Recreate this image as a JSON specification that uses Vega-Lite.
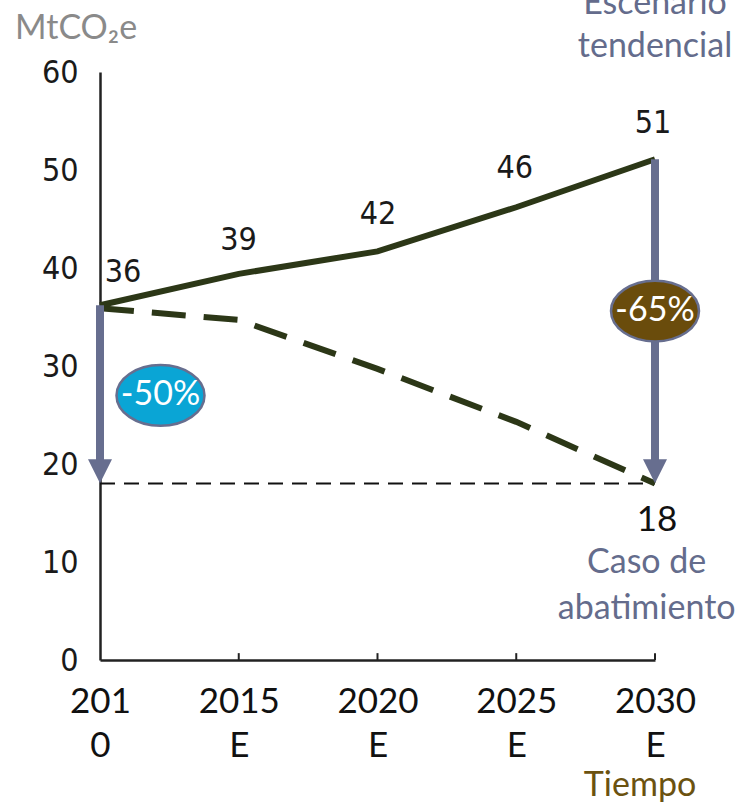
{
  "$schema": "https://vega.github.io/schema/vega-lite/v6.json",
  "width": 555,
  "height": 588,
  "autosize": "none",
  "padding": {"left": 100, "top": 72, "right": 85, "bottom": 145},
  "background": "white",
  "config": {"view": {"stroke": null}},
  "layer": [
    {
      "data": {"values": [{"year": 2010, "value": 18}, {"year": 2030, "value": 18}]},
      "mark": {"type": "line", "color": "#111111", "strokeWidth": 2, "strokeDash": [15, 9]},
      "encoding": {
        "x": {
          "field": "year", "type": "quantitative",
          "scale": {"domain": [2010, 2030], "nice": false, "zero": false},
          "axis": {
            "values": [2010, 2015, 2020, 2025, 2030],
            "title": null, "grid": false, "ticks": false,
            "domainColor": "#222222", "domainWidth": 2.5,
            "labelExpr": "datum.value == 2010 ? ['201','0'] : [toString(datum.value),'E']",
            "labelFont": "Lato", "labelFontSize": 35, "labelColor": "#111111",
            "labelPadding": 24, "labelLineHeight": 44, "labelBaseline": "top",
            "labelFlush": false, "labelOverlap": false, "labelBound": false
          }
        },
        "y": {
          "field": "value", "type": "quantitative",
          "scale": {"domain": [0, 60], "nice": false, "zero": true},
          "axis": {
            "values": [0, 10, 20, 30, 40, 50, 60],
            "title": null, "grid": false, "ticks": false,
            "domainColor": "#222222", "domainWidth": 2.5,
            "labelFont": "'Liberation Sans Narrow', 'DejaVu Sans Condensed', 'Roboto Condensed', Roboto, sans-serif", "labelFontSize": 32, "labelColor": "#1a1a1a",
            "labelPadding": 22, "labelFlush": false, "labelOverlap": false
          }
        }
      }
    },
    {
      "data": {"values": [{"year": 2015, "lo": 0, "hi": 0.7}, {"year": 2020, "lo": 0, "hi": 0.7}, {"year": 2025, "lo": 0, "hi": 0.7}, {"year": 2030, "lo": 0, "hi": 0.7}]},
      "mark": {"type": "rule", "color": "#222222", "strokeWidth": 2},
      "encoding": {
        "x": {"field": "year", "type": "quantitative"},
        "y": {"field": "lo", "type": "quantitative"},
        "y2": {"field": "hi"}
      }
    },
    {
      "data": {"values": [
        {"year": 2010, "value": 35.9},
        {"year": 2015, "value": 34.7},
        {"year": 2020, "value": 29.7},
        {"year": 2025, "value": 24.3},
        {"year": 2030, "value": 18.0}
      ]},
      "mark": {"type": "line", "color": "#2c3717", "strokeWidth": 6, "strokeDash": [34, 18]},
      "encoding": {
        "x": {"field": "year", "type": "quantitative"},
        "y": {"field": "value", "type": "quantitative"}
      }
    },
    {
      "data": {"values": [
        {"year": 2010, "value": 36.2},
        {"year": 2015, "value": 39.4},
        {"year": 2020, "value": 41.7},
        {"year": 2025, "value": 46.2},
        {"year": 2030, "value": 51.1}
      ]},
      "mark": {"type": "line", "color": "#2c3717", "strokeWidth": 6},
      "encoding": {
        "x": {"field": "year", "type": "quantitative"},
        "y": {"field": "value", "type": "quantitative"}
      }
    },
    {
      "data": {"values": [
        {"year": 2010, "from": 36.2, "to": 20.2},
        {"year": 2030, "from": 51.1, "to": 20.2}
      ]},
      "mark": {"type": "rule", "color": "#676e8f", "strokeWidth": 8},
      "encoding": {
        "x": {"field": "year", "type": "quantitative"},
        "y": {"field": "from", "type": "quantitative"},
        "y2": {"field": "to"}
      }
    },
    {
      "data": {"values": [
        {"year": 2010, "value": 19.25},
        {"year": 2030, "value": 19.25}
      ]},
      "mark": {"type": "point", "shape": "M -1 -1 L 1 -1 L 0 1 Z", "size": 576, "filled": true, "color": "#676e8f", "opacity": 1},
      "encoding": {
        "x": {"field": "year", "type": "quantitative"},
        "y": {"field": "value", "type": "quantitative"}
      }
    },
    {
      "data": {"values": [{"year": 2012.18, "value": 27.0}]},
      "mark": {"type": "point", "shape": "M -1 0 A 1 0.69 0 1 1 1 0 A 1 0.69 0 1 1 -1 0 Z", "size": 7744, "filled": true, "fill": "#0aa5d5", "stroke": "#676e8f", "strokeWidth": 2.5, "opacity": 1, "fillOpacity": 1},
      "encoding": {
        "x": {"field": "year", "type": "quantitative"},
        "y": {"field": "value", "type": "quantitative"}
      }
    },
    {
      "data": {"values": [{"year": 2030, "value": 35.6}]},
      "mark": {"type": "point", "shape": "M -1 0 A 1 0.69 0 1 1 1 0 A 1 0.69 0 1 1 -1 0 Z", "size": 7744, "filled": true, "fill": "#6a4c0c", "stroke": "#676e8f", "strokeWidth": 2.5, "opacity": 1, "fillOpacity": 1},
      "encoding": {
        "x": {"field": "year", "type": "quantitative"},
        "y": {"field": "value", "type": "quantitative"}
      }
    },
    {
      "data": {"values": [
        {"year": 2012.18, "value": 27.0, "label": "-50%"},
        {"year": 2030, "value": 35.6, "label": "-65%"}
      ]},
      "mark": {"type": "text", "font": "Lato", "fontSize": 34, "color": "white", "align": "center", "baseline": "middle"},
      "encoding": {
        "x": {"field": "year", "type": "quantitative"},
        "y": {"field": "value", "type": "quantitative"},
        "text": {"field": "label"}
      }
    },
    {
      "data": {"values": [
        {"year": 2010.83, "value": 39.6, "label": "36"},
        {"year": 2014.99, "value": 42.9, "label": "39"},
        {"year": 2020.02, "value": 45.5, "label": "42"},
        {"year": 2024.95, "value": 50.2, "label": "46"},
        {"year": 2029.93, "value": 54.8, "label": "51"}
      ]},
      "mark": {"type": "text", "font": "'Liberation Sans Narrow', 'DejaVu Sans Condensed', 'Roboto Condensed', Roboto, sans-serif", "fontSize": 32, "color": "#1a1a1a", "align": "center", "baseline": "middle"},
      "encoding": {
        "x": {"field": "year", "type": "quantitative"},
        "y": {"field": "value", "type": "quantitative"},
        "text": {"field": "label"}
      }
    },
    {
      "data": {"values": [{"year": 2030.07, "value": 14.3, "label": "18"}]},
      "mark": {"type": "text", "font": "Lato", "fontSize": 35, "color": "#111111", "align": "center", "baseline": "middle"},
      "encoding": {
        "x": {"field": "year", "type": "quantitative"},
        "y": {"field": "value", "type": "quantitative"},
        "text": {"field": "label"}
      }
    },
    {
      "data": {"values": [
        {"year": 2030, "value": 66.9, "label": "Escenario"},
        {"year": 2030, "value": 62.55, "label": "tendencial"},
        {"year": 2029.7, "value": 9.9, "label": "Caso de"},
        {"year": 2029.7, "value": 5.2, "label": "abatimiento"}
      ]},
      "mark": {"type": "text", "font": "Lato", "fontSize": 34, "color": "#646c8c", "align": "center", "baseline": "middle"},
      "encoding": {
        "x": {"field": "year", "type": "quantitative"},
        "y": {"field": "value", "type": "quantitative"},
        "text": {"field": "label"}
      }
    },
    {
      "data": {"values": [{"year": 2009.14, "value": 64.4, "label": "MtCO₂e"}]},
      "mark": {"type": "text", "font": "Lato", "fontSize": 34, "color": "#8a8a8a", "align": "center", "baseline": "middle"},
      "encoding": {
        "x": {"field": "year", "type": "quantitative"},
        "y": {"field": "value", "type": "quantitative"},
        "text": {"field": "label"}
      }
    },
    {
      "data": {"values": [{"year": 2029.46, "value": -12.9, "label": "Tiempo"}]},
      "mark": {"type": "text", "font": "Lato", "fontSize": 34, "color": "#6b5210", "align": "center", "baseline": "middle"},
      "encoding": {
        "x": {"field": "year", "type": "quantitative"},
        "y": {"field": "value", "type": "quantitative"},
        "text": {"field": "label"}
      }
    }
  ]
}
